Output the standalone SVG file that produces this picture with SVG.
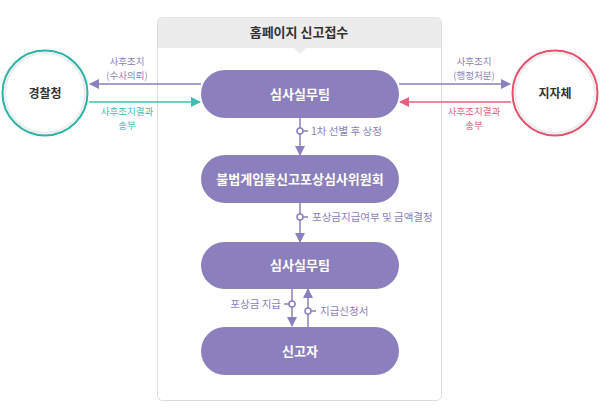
<svg xmlns="http://www.w3.org/2000/svg" width="600" height="418" viewBox="0 0 600 418">
<style>
text{font-family:"Noto Sans CJK KR","Noto Sans",sans-serif}
.pill{fill:#8b7fbd}
.pt{fill:#fff;font-size:13px;font-weight:bold;text-anchor:middle}
.lbl{font-size:10.5px;fill:#8b7fbd}
.lblc{font-size:9.5px;text-anchor:middle}
.ln{stroke:#8b7fbd;stroke-width:1.5;fill:none}
.dot{fill:#fff;stroke:#8b7fbd;stroke-width:1.5}
.ct{font-size:12px;font-weight:bold;fill:#333;text-anchor:middle}
</style>
<defs>
<marker id="ap" viewBox="0 0 10 10" refX="9" refY="5" markerWidth="10" markerHeight="10" markerUnits="userSpaceOnUse" orient="auto"><path d="M0,0L10,5L0,10z" fill="#8b7fbd"/></marker>
<marker id="at" viewBox="0 0 10 10" refX="9" refY="5" markerWidth="10" markerHeight="10" markerUnits="userSpaceOnUse" orient="auto"><path d="M0,0L10,5L0,10z" fill="#3fbfb3"/></marker>
<marker id="ak" viewBox="0 0 10 10" refX="9" refY="5" markerWidth="10" markerHeight="10" markerUnits="userSpaceOnUse" orient="auto"><path d="M0,0L10,5L0,10z" fill="#e8607f"/></marker>
</defs>
<rect width="600" height="418" fill="#fff"/>
<g id="frame">
<rect x="157.5" y="17.5" width="284" height="383" rx="5" fill="#fff" stroke="#dcdcdc"/>
<path d="M158,48V22.5a5,5 0 0 1 5,-5H436a5,5 0 0 1 5,5V48H306l-6,6l-6,-6z" fill="#ececec"/>
<text x="299" y="37" class="ct" style="font-size:13px">홈페이지 신고접수</text>
</g>
<g id="connectors">
<line x1="201" y1="84" x2="90" y2="84" class="ln" marker-end="url(#ap)"/>
<line x1="89" y1="102" x2="200" y2="102" stroke="#3fbfb3" stroke-width="1.5" marker-end="url(#at)"/>
<line x1="399" y1="84" x2="510" y2="84" class="ln" marker-end="url(#ap)"/>
<line x1="511" y1="102" x2="400" y2="102" stroke="#e8607f" stroke-width="1.5" marker-end="url(#ak)"/>
<line x1="300" y1="118" x2="300" y2="155" class="ln" marker-end="url(#ap)"/>
<line x1="300" y1="203" x2="300" y2="242" class="ln" marker-end="url(#ap)"/>
<line x1="292" y1="289" x2="292" y2="326" class="ln" marker-end="url(#ap)"/>
<line x1="308" y1="327" x2="308" y2="289" class="ln" marker-end="url(#ap)"/>
<line x1="300" y1="131" x2="308" y2="131" class="ln"/>
<circle cx="300" cy="131" r="3" class="dot"/>
<line x1="300" y1="217" x2="308" y2="217" class="ln"/>
<circle cx="300" cy="217" r="3" class="dot"/>
<line x1="284" y1="304" x2="292" y2="304" class="ln"/>
<circle cx="292" cy="304" r="3" class="dot"/>
<line x1="308" y1="311" x2="316" y2="311" class="ln"/>
<circle cx="308" cy="311" r="3" class="dot"/>
<text x="311" y="135" class="lbl">1차 선별 후 상정</text>
<text x="312" y="221" class="lbl">포상금지급여부 및 금액결정</text>
<text x="281" y="308" class="lbl" text-anchor="end">포상금 지급</text>
<text x="320" y="315" class="lbl">지급신청서</text>
<text x="127" y="65" class="lblc" fill="#8b7fbd">사후조치</text>
<text x="127" y="79" class="lblc" fill="#8b7fbd">(수사의뢰)</text>
<text x="127" y="115" class="lblc" fill="#3fbfb3">사후조치결과</text>
<text x="127" y="129" class="lblc" fill="#3fbfb3">송부</text>
<text x="474" y="65" class="lblc" fill="#8b7fbd">사후조치</text>
<text x="474" y="79" class="lblc" fill="#8b7fbd">(행정처분)</text>
<text x="474" y="115" class="lblc" fill="#e8607f">사후조치결과</text>
<text x="474" y="129" class="lblc" fill="#e8607f">송부</text>
</g>
<g id="police">
<circle cx="45" cy="93" r="42.5" fill="#fff" stroke="#2cb3aa" stroke-width="2"/>
<circle cx="45" cy="93" r="40" fill="none" stroke="#ececec" stroke-width="2"/>
<text x="45" y="98" class="ct">경찰청</text>
</g>
<g id="local">
<circle cx="555" cy="93" r="42.5" fill="#fff" stroke="#e4506f" stroke-width="2"/>
<circle cx="555" cy="93" r="40" fill="none" stroke="#ececec" stroke-width="2"/>
<text x="555" y="98" class="ct">지자체</text>
</g>
<g id="team1">
<rect x="201" y="70" width="198" height="48" rx="24" class="pill"/>
<text x="300" y="99" class="pt">심사실무팀</text>
</g>
<g id="committee">
<rect x="201" y="155" width="198" height="48" rx="24" class="pill"/>
<text x="300" y="184" class="pt">불법게임물신고포상심사위원회</text>
</g>
<g id="team2">
<rect x="201" y="242" width="198" height="47" rx="23.5" class="pill"/>
<text x="300" y="270" class="pt">심사실무팀</text>
</g>
<g id="reporter">
<rect x="201" y="327" width="198" height="48" rx="24" class="pill"/>
<text x="300" y="356" class="pt">신고자</text>
</g>
</svg>
